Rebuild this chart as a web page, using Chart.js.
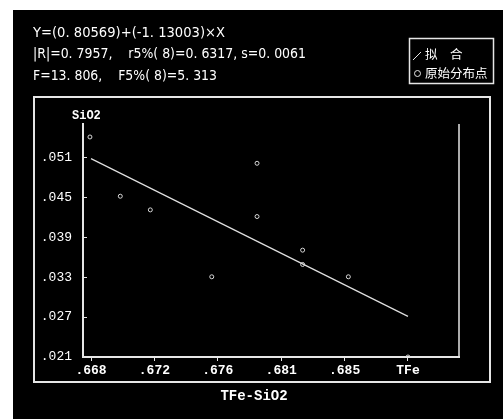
<!DOCTYPE html>
<html>
<head>
<meta charset="utf-8">
<script src="https://cdn.jsdelivr.net/npm/chart.js@4.4.1/dist/chart.umd.min.js"></script>
<style>
  html, body { margin: 0; padding: 0; background: #fff; }
  canvas { display: block; }
</style>
</head>
<body>
<canvas id="chart" width="503" height="419"></canvas>
<script>
// TFe (x) vs SiO2 (y) sample points
const tfe  = [0.66793, 0.66994, 0.67193, 0.6790, 0.6790, 0.68202, 0.68202, 0.6760, 0.68505, 0.6890];
const sio2 = [0.05405, 0.04515, 0.04310, 0.0501, 0.0421, 0.03705, 0.0349, 0.03305, 0.03305, 0.0210];

// fitted line end points
const fitX = [0.668, 0.689];
const fitY = [0.0508, 0.0271];

const xTicks = [0.668, 0.6722, 0.6764, 0.6806, 0.6848, 0.689];
const xTickLabels = [".668", ".672", ".676", ".681", ".685", "TFe"];
const yTicks = [0.021, 0.027, 0.033, 0.039, 0.045, 0.051];
const yTickLabels = [".021", ".027", ".033", ".039", ".045", ".051"];

const headerLines = [
    ["Y=(0. 80569)+(-1. 13003)×X", 37, 192],
    ["|R|=0. 7957,    r5%( 8)=0. 6317, s=0. 0061", 58, 273],
    ["F=13. 806,    F5%( 8)=5. 313", 80, 184]
];
const legendLines = ["拟　合", "原始分布点"];

const lineColor = "#e6e6e6";

const backdrop = {
    id: "backdrop",
    beforeDraw(chart) {
        const ctx = chart.ctx;
        ctx.save();
        ctx.fillStyle = "#fff";
        ctx.fillRect(0, 0, 503, 419);
        ctx.fillStyle = "#000";
        ctx.fillRect(13, 10, 490, 409);
        // inner frame
        ctx.strokeStyle = lineColor;
        ctx.lineWidth = 2;
        ctx.strokeRect(34, 97, 456, 285);
        // legend box
        ctx.lineWidth = 1.5;
        ctx.strokeRect(409.5, 38.5, 84, 45);
        ctx.restore();
    },
    afterDraw(chart) {
        const ctx = chart.ctx;
        const a = chart.chartArea;
        const ys = chart.scales.y;
        ctx.save();
        ctx.strokeStyle = lineColor;
        ctx.lineWidth = 1.5;
        // right border of plot
        ctx.beginPath();
        ctx.moveTo(a.right, a.top);
        ctx.lineTo(a.right, a.bottom);
        ctx.stroke();
        // inward y ticks
        ctx.lineWidth = 1;
        yTicks.forEach(v => {
            const py = Math.round(ys.getPixelForValue(v)) + 0.5;
            ctx.beginPath();
            ctx.moveTo(a.left, py);
            ctx.lineTo(a.left + 4, py);
            ctx.stroke();
        });
        // header text
        ctx.fillStyle = "#fff";
        ctx.textBaseline = "alphabetic";
        ctx.font = "14px 'DejaVu Sans Condensed', 'Liberation Sans Narrow', 'DejaVu Sans'";
        headerLines.forEach(([t, y, w]) => {
            const mw = ctx.measureText(t).width;
            ctx.save();
            ctx.translate(33, y);
            ctx.scale(w / mw, 1);
            ctx.fillText(t, 0, 0);
            ctx.restore();
        });
        // legend symbols
        ctx.lineWidth = 1;
        ctx.beginPath();
        ctx.moveTo(413, 60);
        ctx.lineTo(421, 52);
        ctx.stroke();
        ctx.beginPath();
        ctx.arc(417.5, 73.5, 3, 0, Math.PI * 2);
        ctx.stroke();
        // legend text
        ctx.font = "12.5px 'Noto Sans CJK SC'";
        ctx.fillText(legendLines[0], 425, 59);
        ctx.fillText(legendLines[1], 425, 78);
        // axis names
        ctx.font = "bold 12px 'Liberation Mono', 'DejaVu Sans Mono'";
        ctx.fillText("SiO2", 72, 119);
        ctx.font = "bold 14px 'Liberation Mono', 'DejaVu Sans Mono'";
        ctx.textAlign = "center";
        ctx.fillText("TFe-SiO2", 254, 400);
        ctx.restore();
    }
};

new Chart(document.getElementById("chart"), {
    type: "scatter",
    data: {
        datasets: [
            {
                label: "原始分布点",
                data: tfe.map((x, i) => ({ x: x, y: sio2[i] })),
                pointStyle: "circle",
                pointRadius: 2,
                borderColor: "#d8d8d8",
                backgroundColor: "rgba(0,0,0,0)",
                borderWidth: 1
            },
            {
                label: "拟合",
                type: "line",
                data: fitX.map((x, i) => ({ x: x, y: fitY[i] })),
                borderColor: "#e0e0e0",
                borderWidth: 1.2,
                pointRadius: 0,
                fill: false
            }
        ]
    },
    options: {
        responsive: false,
        animation: false,
        layout: { padding: { left: 0, top: 124, right: 44, bottom: 0 } },
        plugins: { legend: { display: false }, tooltip: { enabled: false } },
        scales: {
            x: {
                type: "linear",
                min: 0.66747,
                max: 0.69238,
                afterBuildTicks: s => { s.ticks = xTicks.map(v => ({ value: v })); },
                afterFit: s => { s.height = 62; },
                ticks: {
                    callback: (v, i) => xTickLabels[i],
                    color: "#fff",
                    font: { family: "'Liberation Mono', 'DejaVu Sans Mono'", size: 13, weight: "bold" },
                    padding: 2,
                    maxRotation: 0,
                    autoSkip: false
                },
                grid: { drawOnChartArea: false, tickLength: 4, color: lineColor },
                border: { display: true, color: lineColor, width: 2 }
            },
            y: {
                type: "linear",
                min: 0.021,
                max: 0.056,
                afterBuildTicks: s => { s.ticks = yTicks.map(v => ({ value: v })); },
                afterFit: s => { s.width = 83; },
                ticks: {
                    callback: (v, i) => yTickLabels[i],
                    color: "#fff",
                    font: { family: "'Liberation Mono', 'DejaVu Sans Mono'", size: 13 },
                    padding: 11,
                    autoSkip: false
                },
                grid: { display: true, drawOnChartArea: false, drawTicks: false, color: lineColor },
                border: { display: true, color: lineColor, width: 2 }
            }
        }
    },
    plugins: [backdrop]
});
</script>
</body>
</html>
